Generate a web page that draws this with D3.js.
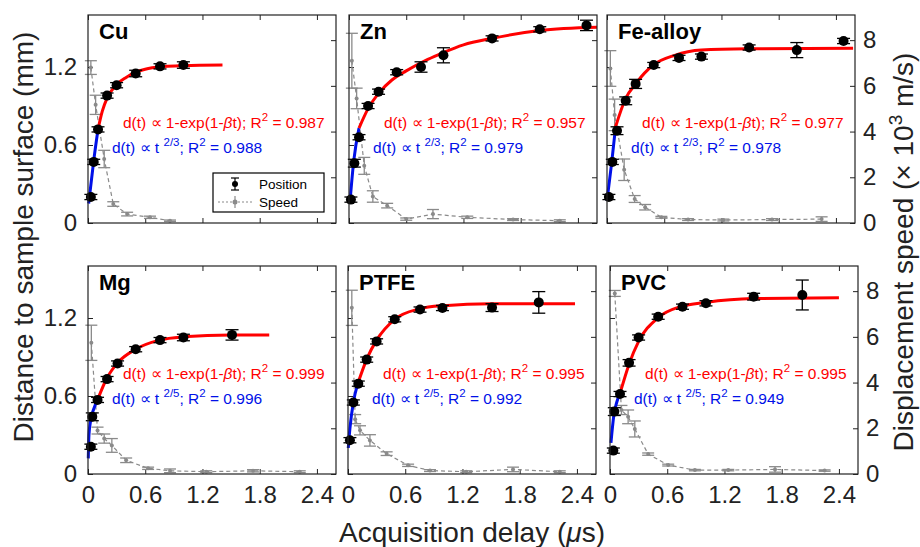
<!DOCTYPE html>
<html>
<head>
<meta charset="utf-8">
<script src="https://cdn.jsdelivr.net/npm/d3@7"></script>
<style>
  body { margin: 0; background: #fff; }
  text { font-family: "Liberation Sans", Arial, sans-serif; }
</style>
</head>
<body>
<svg id="chart" width="920" height="547"></svg>
<script>
// panel names and fit annotations
var materials = ["Cu", "Zn", "Fe-alloy", "Mg", "PTFE", "PVC"];
var powerExp = ["2/3", "2/3", "2/3", "2/5", "2/5", "2/5"];
var r2Exp = ["0.987", "0.957", "0.977", "0.999", "0.995", "0.995"];
var r2Pow = ["0.988", "0.979", "0.978", "0.996", "0.992", "0.949"];

var xTicks = [0, 0.6, 1.2, 1.8, 2.4], xTickLabels = ["0", "0.6", "1.2", "1.8", "2.4"];
var posTicks = [0, 0.6, 1.2], posTickLabels = ["0", "0.6", "1.2"];
var speedTicks = [0, 2, 4, 6, 8], speedTickLabels = ["0", "2", "4", "6", "8"];

// position: [delay (us), distance (mm), error]
var cuPos = [[0.03,0.20,0.02],[0.06,0.47,0.02],[0.105,0.72,0.02],[0.20,0.98,0.02],[0.30,1.06,0.02],[0.50,1.15,0.025],[0.755,1.205,0.02],[1.00,1.215,0.025]];
var znPos = [[0.02,0.18,0.02],[0.056,0.46,0.03],[0.105,0.66,0.02],[0.20,0.90,0.02],[0.31,1.01,0.02],[0.50,1.16,0.02],[0.755,1.20,0.04],[0.99,1.29,0.058],[1.50,1.42,0.02],[2.00,1.49,0.02],[2.49,1.52,0.04]];
var fePos = [[0.02,0.20,0.02],[0.056,0.47,0.02],[0.105,0.71,0.03],[0.196,0.94,0.03],[0.30,1.07,0.035],[0.49,1.215,0.02],[0.755,1.27,0.02],[0.99,1.28,0.02],[1.49,1.35,0.02],[1.99,1.33,0.058],[2.48,1.40,0.02]];
var mgPos = [[0.03,0.21,0.02],[0.045,0.44,0.03],[0.10,0.57,0.02],[0.20,0.73,0.02],[0.31,0.85,0.02],[0.50,0.96,0.02],[0.755,1.03,0.02],[1.00,1.05,0.025],[1.51,1.07,0.04]];
var ptfePos = [[0.02,0.26,0.02],[0.056,0.55,0.02],[0.108,0.695,0.02],[0.196,0.88,0.02],[0.30,1.02,0.02],[0.49,1.19,0.02],[0.755,1.265,0.02],[0.99,1.277,0.02],[1.51,1.28,0.03],[2.00,1.32,0.083]];
var pvcPos = [[0.035,0.18,0.02],[0.045,0.48,0.03],[0.105,0.615,0.02],[0.20,0.855,0.025],[0.30,1.05,0.02],[0.505,1.21,0.02],[0.76,1.287,0.02],[1.006,1.313,0.02],[1.506,1.364,0.026],[2.016,1.377,0.115]];

// speed: [delay (us), speed (10^3 m/s), error]
var cuSpeed = [[0.03,6.8,0.3],[0.08,5.17,0.42],[0.17,2.8,0.38],[0.265,0.83,0.1],[0.41,0.39,0.08],[0.65,0.25,0.05],[0.86,0.10,0.03]];
var znSpeed = [[0.03,7.1,1.2],[0.08,5.45,0.45],[0.16,2.5,0.37],[0.25,1.16,0.25],[0.40,0.76,0.1],[0.60,0.17,0.05],[0.88,0.39,0.2],[1.24,0.25,0.05],[1.72,0.15,0.04],[2.21,0.10,0.04]];
var feSpeed = [[0.035,6.76,0.78],[0.08,4.73,0.69],[0.18,2.33,0.47],[0.29,1.05,0.15],[0.40,0.69,0.12],[0.57,0.25,0.04],[0.85,0.15,0.04],[1.22,0.13,0.04],[1.73,0.15,0.04],[2.25,0.17,0.1]];
var mgSpeed = [[0.035,5.74,0.77],[0.10,1.9,0.15],[0.17,1.55,0.2],[0.25,1.25,0.3],[0.40,0.6,0.1],[0.63,0.25,0.05],[0.86,0.14,0.08],[1.24,0.10,0.04],[1.73,0.14,0.05],[2.22,0.10,0.04]];
var ptfeSpeed = [[0.04,7.27,0.77],[0.075,2.4,0.2],[0.126,1.91,0.2],[0.23,1.47,0.25],[0.405,0.89,0.08],[0.63,0.38,0.05],[0.86,0.15,0.04],[1.24,0.10,0.04],[1.73,0.2,0.1],[2.22,0.10,0.04]];
var pvcSpeed = [[0.05,7.9,0.13],[0.12,2.8,0.2],[0.19,2.5,0.3],[0.26,1.97,0.35],[0.40,0.87,0.05],[0.61,0.39,0.04],[0.89,0.17,0.03],[1.24,0.17,0.03],[1.73,0.2,0.12],[2.25,0.15,0.03]];

// fitted curves: [delay, distance]
var cuExp = [[0.105,0.72],[0.15,0.86],[0.2,0.96],[0.3,1.065],[0.4,1.12],[0.5,1.16],[0.6,1.183],[0.8,1.203],[1.0,1.21],[1.41,1.215]];
var znExp = [[0.105,0.73],[0.2,0.88],[0.32,1.005],[0.45,1.10],[0.6,1.17],[0.8,1.25],[0.955,1.30],[1.2,1.37],[1.5,1.42],[2.0,1.48],[2.6,1.505]];
var feExp = [[0.09,0.74],[0.19,0.95],[0.31,1.08],[0.485,1.215],[0.71,1.29],[0.99,1.33],[1.48,1.34],[2.58,1.345]];
var mgExp = [[0.10,0.57],[0.2,0.74],[0.31,0.855],[0.5,0.96],[0.75,1.03],[1.0,1.055],[1.5,1.07],[1.9,1.07]];
var ptfeExp = [[0.10,0.69],[0.2,0.89],[0.3,1.03],[0.49,1.19],[0.75,1.27],[1.0,1.295],[1.5,1.31],[2.38,1.31]];
var pvcExp = [[0.105,0.62],[0.2,0.845],[0.3,1.02],[0.5,1.20],[0.75,1.29],[1.0,1.32],[1.5,1.35],[2.4,1.356]];

var cuPow = [[0.007,0.15],[0.06,0.48],[0.105,0.72]];
var znPow = [[0.01,0.16],[0.05,0.48],[0.105,0.73]];
var fePow = [[0.0,0.17],[0.05,0.47],[0.09,0.74]];
var mgPow = [[0.003,0.12],[0.01,0.3],[0.03,0.42],[0.06,0.50],[0.10,0.57]];
var ptfePow = [[0.003,0.2],[0.02,0.35],[0.056,0.55],[0.10,0.69]];
var pvcPow = [[0.01,0.24],[0.04,0.45],[0.07,0.55],[0.105,0.62]];

var positions = [cuPos, znPos, fePos, mgPos, ptfePos, pvcPos];
var speeds = [cuSpeed, znSpeed, feSpeed, mgSpeed, ptfeSpeed, pvcSpeed];
var expFits = [cuExp, znExp, feExp, mgExp, ptfeExp, pvcExp];
var powFits = [cuPow, znPow, fePow, mgPow, ptfePow, pvcPow];

// layout
var panelX = [88, 349, 607, 88, 348, 610],
    panelY = [15, 15, 15, 266, 266, 266];
var pw = 248, ph = 208;

var x = d3.scaleLinear().domain([0, 2.6]).range([0, pw]);
var yPos = d3.scaleLinear().domain([0, 1.6]).range([ph, 0]);
var ySpd = d3.scaleLinear().domain([0, 9.1]).range([ph, 0]);

var svg = d3.select("#chart");
var fontFam = '"Liberation Sans", Arial, sans-serif';
var grey = "#8a8a8a";

var lineFit = function (d) {
    return d3.line().x(function (p) { return x(p[0]); }).y(function (p) { return yPos(p[1]); })
        .curve(d3.curveMonotoneX)(d);
};

// draws the formula text with superscripts
function fitText(g, tx, ty, color, parts) {
    var t = g.append("text").attr("x", tx).attr("y", ty).attr("fill", color).attr("font-size", 15.5);
    parts.forEach(function (p) {
        var s = t.append("tspan").text(p[0]);
        if (p[1] == "sup") {
            s.attr("font-size", 11.5).attr("dy", -7);
        } else if (p[1] == "ital") {
            s.attr("font-style", "italic");
        }
        if (p[2]) s.attr("dy", 7);
    });
}

materials.forEach(function (name, i) {
    var col = i % 3, row = Math.floor(i / 3);
    var g = svg.append("g").attr("transform", "translate(" + panelX[i] + "," + panelY[i] + ")");

    // axes with inward ticks
    g.append("g").attr("transform", "translate(0," + ph + ")")
        .call(d3.axisBottom(x).tickValues(xTicks).tickSizeInner(-5).tickSizeOuter(0).tickPadding(12)
            .tickFormat(function (d, k) { return row == 1 ? xTickLabels[k] : ""; }));
    g.append("g")
        .call(d3.axisTop(x).tickValues(xTicks).tickSizeInner(-5).tickSizeOuter(0).tickFormat(""));
    g.append("g")
        .call(d3.axisLeft(yPos).tickValues(posTicks).tickSizeInner(-5).tickSizeOuter(0).tickPadding(11)
            .tickFormat(function (d, k) { return col == 0 ? posTickLabels[k] : ""; }));
    g.append("g").attr("transform", "translate(" + pw + ",0)")
        .call(d3.axisRight(ySpd).tickValues(speedTicks).tickSizeInner(-5).tickSizeOuter(0).tickPadding(8)
            .tickFormat(function (d, k) { return col == 2 ? speedTickLabels[k] : ""; }));
    g.selectAll(".domain").remove();
    g.selectAll(".tick line").attr("stroke", "#222");
    g.selectAll(".tick text").attr("font-size", 24).attr("fill", "#222").attr("font-family", fontFam);

    // speed series (grey dashed)
    var sp = speeds[i];
    g.append("path")
        .attr("d", d3.line().x(function (p) { return x(p[0]); }).y(function (p) { return ySpd(p[1]); })(sp))
        .attr("fill", "none").attr("stroke", grey).attr("stroke-width", 1.2).attr("stroke-dasharray", "4,3");
    var se = g.append("g").selectAll("g").data(sp).enter().append("g").attr("stroke", grey).attr("stroke-width", 1.3);
    se.append("line").attr("x1", function (d) { return x(d[0]); }).attr("x2", function (d) { return x(d[0]); })
        .attr("y1", function (d) { return ySpd(d[1] - d[2]); }).attr("y2", function (d) { return ySpd(d[1] + d[2]); });
    [-1, 1].forEach(function (s) {
        se.append("line").attr("x1", function (d) { return x(d[0]) - 6; }).attr("x2", function (d) { return x(d[0]) + 6; })
            .attr("y1", function (d) { return ySpd(d[1] + s * d[2]); }).attr("y2", function (d) { return ySpd(d[1] + s * d[2]); });
    });
    se.append("circle").attr("cx", function (d) { return x(d[0]); }).attr("cy", function (d) { return ySpd(d[1]); })
        .attr("r", 2).attr("fill", grey).attr("stroke", "none");

    // fits
    g.append("path").attr("d", lineFit(powFits[i])).attr("fill", "none").attr("stroke", "#0010e8").attr("stroke-width", 3);
    g.append("path").attr("d", lineFit(expFits[i])).attr("fill", "none").attr("stroke", "#ff0000").attr("stroke-width", 3);

    // positions with error bars
    var pe = g.append("g").selectAll("g").data(positions[i]).enter().append("g").attr("stroke", "#000").attr("stroke-width", 1.3);
    pe.append("line").attr("x1", function (d) { return x(d[0]); }).attr("x2", function (d) { return x(d[0]); })
        .attr("y1", function (d) { return yPos(d[1] - d[2]); }).attr("y2", function (d) { return yPos(d[1] + d[2]); });
    [-1, 1].forEach(function (s) {
        pe.append("line").attr("x1", function (d) { return x(d[0]) - 6.5; }).attr("x2", function (d) { return x(d[0]) + 6.5; })
            .attr("y1", function (d) { return yPos(d[1] + s * d[2]); }).attr("y2", function (d) { return yPos(d[1] + s * d[2]); });
    });
    pe.append("circle").attr("cx", function (d) { return x(d[0]); }).attr("cy", function (d) { return yPos(d[1]); })
        .attr("r", 5).attr("fill", "#000").attr("stroke", "none");

    // frame
    g.append("rect").attr("width", pw).attr("height", ph).attr("fill", "none").attr("stroke", "#222").attr("stroke-width", 1.2);

    // panel label
    g.append("text").attr("x", 11).attr("y", 24).attr("font-size", 22).attr("font-weight", "bold").text(name);

    fitText(g, 35, 113, "#ff0000", [["d(t) \u221d 1-exp(1-"], ["\u03b2", "ital"], ["t); R"], ["2", "sup"], [" = " + r2Exp[i], "", true]]);
    fitText(g, 24, 138, "#0010e8", [["d(t) \u221d t "], [powerExp[i], "sup"], ["; R", "", true], ["2", "sup"], [" = " + r2Pow[i], "", true]]);

    // legend in first panel
    if (i == 0) {
        var lg = g.append("g").attr("transform", "translate(125,158)");
        lg.append("rect").attr("width", 111).attr("height", 39).attr("fill", "#fff").attr("stroke", "#000").attr("stroke-width", 1.2);
        lg.append("line").attr("x1", 22).attr("x2", 22).attr("y1", 5).attr("y2", 17).attr("stroke", "#000").attr("stroke-width", 1.2);
        [5, 17].forEach(function (yy) {
            lg.append("line").attr("x1", 18).attr("x2", 26).attr("y1", yy).attr("y2", yy).attr("stroke", "#000").attr("stroke-width", 1.2);
        });
        lg.append("circle").attr("cx", 22).attr("cy", 11).attr("r", 3).attr("fill", "#000");
        lg.append("line").attr("x1", 5).attr("x2", 40).attr("y1", 29).attr("y2", 29).attr("stroke", grey).attr("stroke-width", 1.2).attr("stroke-dasharray", "2,2");
        lg.append("line").attr("x1", 22).attr("x2", 22).attr("y1", 23).attr("y2", 35).attr("stroke", grey).attr("stroke-width", 1.2);
        lg.append("circle").attr("cx", 22).attr("cy", 29).attr("r", 2.5).attr("fill", grey);
        lg.append("text").attr("x", 46).attr("y", 16).attr("font-size", 13.5).text("Position");
        lg.append("text").attr("x", 46).attr("y", 34).attr("font-size", 13.5).text("Speed");
    }
});

// axis titles
svg.append("text").attr("transform", "translate(33,237) rotate(-90)").attr("text-anchor", "middle")
    .attr("font-size", 28).attr("fill", "#222").text("Distance to sample surface (mm)");

var rt = svg.append("text").attr("transform", "translate(913,252) rotate(-90)").attr("text-anchor", "middle")
    .attr("font-size", 28).attr("fill", "#222");
rt.append("tspan").text("Displacement speed (\u00d7 10");
rt.append("tspan").attr("font-size", 19).attr("dy", -11).text("3");
rt.append("tspan").attr("dy", 11).text(" m/s)");

var xt = svg.append("text").attr("x", 472).attr("y", 542).attr("text-anchor", "middle")
    .attr("font-size", 28).attr("fill", "#222");
xt.append("tspan").text("Acquisition delay (");
xt.append("tspan").attr("font-style", "italic").text("\u03bc");
xt.append("tspan").text("s)");
</script>
</body>
</html>
